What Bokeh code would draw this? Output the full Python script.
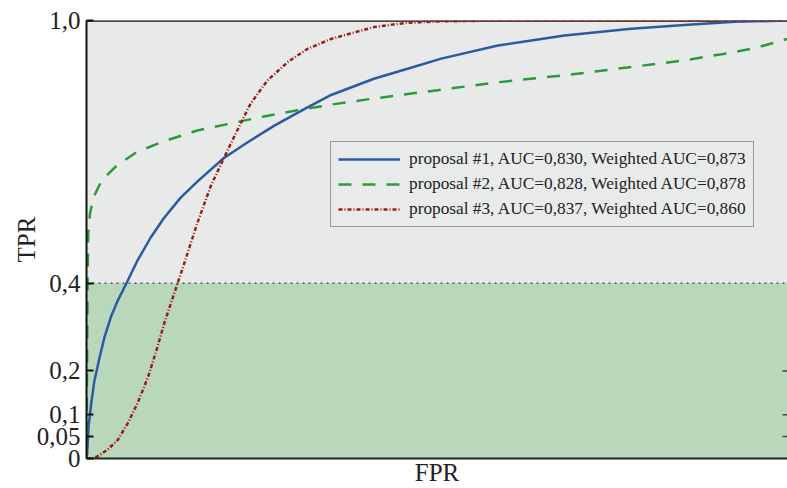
from bokeh.plotting import figure
from bokeh.models import (Range1d, FixedTicker, BoxAnnotation, Span,
                          Legend, LegendItem)
from bokeh.embed import file_html
from bokeh.resources import INLINE

# ---- data ----
fpr_1 = [0, 0.001, 0.003, 0.0067, 0.011, 0.019, 0.026, 0.035, 0.045, 0.057, 0.0724,
         0.0914, 0.11, 0.134, 0.158, 0.196, 0.23, 0.268, 0.31, 0.349, 0.41, 0.458,
         0.506, 0.587, 0.682, 0.777, 0.853, 0.925, 1.0]
tpr_1 = [0, 0.013, 0.074, 0.125, 0.175, 0.233, 0.279, 0.324, 0.362, 0.40, 0.451,
         0.504, 0.548, 0.595, 0.632, 0.686, 0.722, 0.76, 0.797, 0.83, 0.867, 0.89,
         0.913, 0.943, 0.966, 0.981, 0.99, 0.997, 1.0]

fpr_2 = [0, 0.0015, 0.0025, 0.005, 0.0105, 0.022, 0.044, 0.072, 0.11, 0.158, 0.206,
         0.253, 0.301, 0.349, 0.41, 0.501, 0.587, 0.682, 0.758, 0.853, 0.925, 0.958, 1.0]
tpr_2 = [0, 0.4, 0.515, 0.56, 0.598, 0.636, 0.67, 0.70, 0.724, 0.749, 0.765,
         0.781, 0.795, 0.808, 0.822, 0.841, 0.859, 0.875, 0.89, 0.909, 0.928, 0.939, 0.958]

fpr_3 = [0, 0.008, 0.016, 0.030, 0.045, 0.059, 0.073, 0.088, 0.10, 0.111, 0.122, 0.13,
         0.141, 0.158, 0.177, 0.196, 0.215, 0.234, 0.258, 0.287, 0.315, 0.349, 0.41,
         0.458, 0.506, 0.6, 1.0]
tpr_3 = [0, 0.0, 0.005, 0.02, 0.043, 0.081, 0.127, 0.187, 0.248, 0.309, 0.362, 0.40,
         0.453, 0.537, 0.621, 0.686, 0.749, 0.81, 0.863, 0.905, 0.935, 0.958, 0.985,
         0.995, 0.998, 1.0, 1.0]

series_labels = ["proposal #1, AUC=0,830, Weighted AUC=0,873",
                 "proposal #2, AUC=0,828, Weighted AUC=0,878",
                 "proposal #3, AUC=0,837, Weighted AUC=0,860"]

y_ticks = [0, 0.05, 0.1, 0.2, 0.4, 1.0]
y_tick_labels = ["0", "0,05", "0,1", "0,2", "0,4", "1,0"]
right_ticks = [0.05, 0.1, 0.2]
threshold = 0.4
x_end = 1.0

SERIF = "Liberation Serif"

p = figure(width=787, height=488, output_backend="svg", toolbar_location=None,
           x_range=Range1d(0, x_end), y_range=Range1d(0, 1),
           min_border_left=86, min_border_top=20, min_border_bottom=29,
           min_border_right=0,
           background_fill_color="#e8eae9", border_fill_color="white",
           outline_line_color=None)
p.grid.visible = False

# shaded region below threshold
p.add_layout(BoxAnnotation(bottom=0, top=threshold, fill_color="#b9d7bb",
                           fill_alpha=1.0, line_color=None, level="underlay"))
p.add_layout(Span(location=threshold, dimension="width", line_color="#555555",
                  line_width=1.5, line_dash="dotted", level="underlay"))
p.add_layout(Span(location=1.0, dimension="width", line_color="#111111",
                  line_width=2.5, level="underlay"))

# right-side inward tick marks (half clipped by the frame edge)
p.scatter([x_end] * len(right_ticks), right_ticks, marker="dash", size=10,
          line_color="#444444", line_width=1.5)

r1 = p.line(fpr_1, tpr_1, line_color="#2b5aa3", line_width=2.5)
r2 = p.line(fpr_2, tpr_2, line_color="#2a9a3c", line_width=2.5, line_dash="13 11")
r3 = p.line(fpr_3, tpr_3, line_color="#9b1c1c", line_width=2.5,
            line_dash="4 2 1 2")

legend = Legend(items=[LegendItem(label=series_labels[0], renderers=[r1]),
                       LegendItem(label=series_labels[1], renderers=[r2]),
                       LegendItem(label=series_labels[2], renderers=[r3])],
                location=(244, 231),
                label_text_font=SERIF, label_text_font_size="17.3px",
                label_text_color="#222222",
                glyph_width=62, glyph_height=20, label_height=20,
                label_standoff=9, spacing=5, padding=7, margin=0,
                border_line_color="#444444", border_line_width=1,
                background_fill_color="#e9ebea", background_fill_alpha=1.0)
p.add_layout(legend)

# y axis
p.yaxis.ticker = FixedTicker(ticks=y_ticks)
p.yaxis.major_label_overrides = dict(zip(y_ticks, y_tick_labels))
p.yaxis.axis_line_width = 2
p.yaxis.axis_line_color = "#111111"
p.yaxis.major_tick_in = 7
p.yaxis.major_tick_out = 0
p.yaxis.major_tick_line_width = 2
p.yaxis.major_tick_line_color = "#111111"
p.yaxis.minor_tick_line_color = None
p.yaxis.major_label_text_font = SERIF
p.yaxis.major_label_text_font_size = "25px"
p.yaxis.major_label_text_color = "#222222"
p.yaxis.major_label_standoff = 6
p.yaxis.axis_label = "TPR"
p.yaxis.axis_label_text_font = SERIF
p.yaxis.axis_label_text_font_size = "25px"
p.yaxis.axis_label_text_font_style = "normal"
p.yaxis.axis_label_text_color = "#222222"
p.yaxis.axis_label_standoff = -6

# x axis: no ticks
p.xaxis.ticker = FixedTicker(ticks=[])
p.xaxis.axis_line_width = 2
p.xaxis.axis_line_color = "#1c2b1c"
p.xaxis.major_tick_line_color = None
p.xaxis.minor_tick_line_color = None
p.xaxis.major_tick_out = 0
p.xaxis.major_label_standoff = 0
p.xaxis.axis_label = "FPR"
p.xaxis.axis_label_text_font = SERIF
p.xaxis.axis_label_text_font_size = "25px"
p.xaxis.axis_label_text_font_style = "normal"
p.xaxis.axis_label_text_color = "#222222"
p.xaxis.axis_label_standoff = 0

open("out.html", "w").write(file_html(p, INLINE))
